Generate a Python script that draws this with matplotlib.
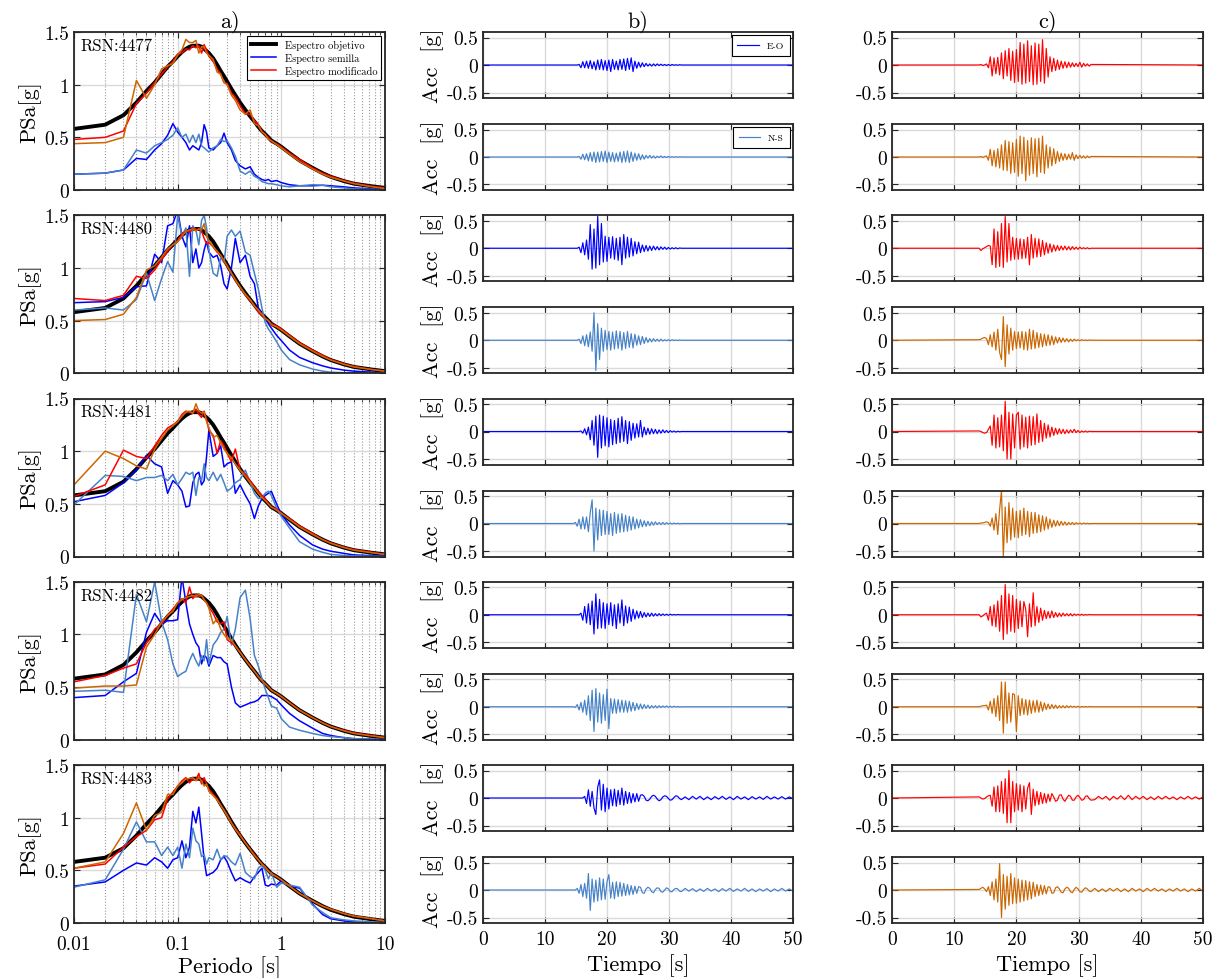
import numpy as np
import matplotlib
matplotlib.use('Agg')
import matplotlib.pyplot as plt
from matplotlib.lines import Line2D
from matplotlib.ticker import LogLocator, NullFormatter

plt.rcParams['font.family'] = 'cmr10'
plt.rcParams['mathtext.fontset'] = 'cm'
plt.rcParams['axes.formatter.use_mathtext'] = True
plt.rcParams['axes.unicode_minus'] = False

# ---------------- spectra (periods in s, PSa in g) ----------------
periods = [0.01, 0.02, 0.03, 0.04, 0.05, 0.06, 0.07, 0.08, 0.09, 0.10,
           0.11, 0.12, 0.13, 0.14, 0.15, 0.16, 0.17, 0.18, 0.19, 0.20,
           0.22, 0.24, 0.26, 0.28, 0.30, 0.33, 0.36, 0.40, 0.45, 0.50,
           0.55, 0.60, 0.65, 0.70, 0.75, 0.80, 0.90, 1.0, 1.2, 1.5,
           2.0, 2.5, 3.0, 4.0, 5.0, 7.5, 10.0]

target = [0.58, 0.62, 0.71, 0.83, 0.94, 1.02, 1.10, 1.17, 1.22, 1.27,
          1.31, 1.34, 1.36, 1.37, 1.37, 1.37, 1.36, 1.34, 1.32, 1.30,
          1.25, 1.19, 1.13, 1.08, 1.03, 0.96, 0.90, 0.83, 0.76, 0.70,
          0.65, 0.60, 0.56, 0.53, 0.50, 0.47, 0.44, 0.41, 0.35, 0.28,
          0.21, 0.16, 0.125, 0.085, 0.06, 0.035, 0.02]

seed_eo_4477 = [0.15, 0.16, 0.19, 0.30, 0.29, 0.38, 0.44, 0.52, 0.63, 0.55,
                0.50, 0.45, 0.38, 0.42, 0.40, 0.38, 0.45, 0.62, 0.55, 0.40,
                0.38, 0.42, 0.45, 0.54, 0.45, 0.38, 0.28, 0.23, 0.20, 0.22,
                0.15, 0.12, 0.10, 0.09, 0.10, 0.08, 0.09, 0.07, 0.05, 0.04,
                0.04, 0.045, 0.04, 0.03, 0.02, 0.01, 0.005]
seed_ns_4477 = [0.15, 0.16, 0.19, 0.38, 0.35, 0.42, 0.45, 0.48, 0.52, 0.59,
                0.50, 0.53, 0.45, 0.52, 0.45, 0.53, 0.42, 0.40, 0.38, 0.36,
                0.40, 0.42, 0.48, 0.46, 0.47, 0.40, 0.32, 0.18, 0.15, 0.18,
                0.13, 0.11, 0.08, 0.07, 0.06, 0.06, 0.05, 0.04, 0.03, 0.04,
                0.05, 0.045, 0.03, 0.02, 0.01, 0.005, 0.003]
mod_eo_4477 = [0.48, 0.50, 0.56, 0.82, 0.92, 1.02, 1.10, 1.17, 1.22, 1.29,
               1.30, 1.34, 1.33, 1.37, 1.35, 1.37, 1.30, 1.38, 1.33, 1.27,
               1.22, 1.15, 1.10, 1.02, 1.01, 0.92, 0.88, 0.80, 0.72, 0.72,
               0.66, 0.62, 0.56, 0.52, 0.50, 0.46, 0.44, 0.41, 0.35, 0.29,
               0.21, 0.16, 0.13, 0.09, 0.065, 0.035, 0.02]
mod_ns_4477 = [0.44, 0.45, 0.50, 1.04, 0.87, 1.00, 1.15, 1.18, 1.20, 1.28,
               1.33, 1.43, 1.40, 1.40, 1.42, 1.30, 1.36, 1.36, 1.30, 1.28,
               1.24, 1.12, 1.10, 1.02, 1.00, 0.90, 0.85, 0.76, 0.72, 0.76,
               0.63, 0.61, 0.55, 0.53, 0.48, 0.47, 0.43, 0.40, 0.34, 0.27,
               0.20, 0.15, 0.12, 0.085, 0.06, 0.03, 0.015]

seed_eo_4480 = [0.67, 0.68, 0.72, 0.82, 0.83, 1.13, 1.05, 1.40, 1.42, 1.55,
                1.30, 1.20, 1.40, 1.05, 1.18, 1.00, 1.05, 1.17, 1.25, 1.15,
                1.10, 1.12, 1.02, 0.85, 0.80, 1.00, 1.28, 1.05, 1.12, 0.92,
                0.85, 0.62, 0.56, 0.52, 0.47, 0.43, 0.36, 0.31, 0.22, 0.15,
                0.10, 0.07, 0.05, 0.03, 0.02, 0.01, 0.005]
seed_ns_4480 = [0.60, 0.62, 0.60, 0.70, 0.95, 0.69, 0.90, 1.06, 0.96, 1.50,
                1.30, 1.38, 0.92, 1.40, 1.36, 1.22, 1.45, 1.50, 1.38, 1.17,
                0.95, 0.92, 1.10, 1.05, 1.30, 1.36, 1.30, 1.35, 1.15, 1.12,
                0.95, 0.80, 0.62, 0.48, 0.42, 0.38, 0.30, 0.22, 0.13, 0.08,
                0.04, 0.02, 0.01, 0.005, 0.002, 0.001, 0.0]
mod_eo_4480 = [0.71, 0.69, 0.74, 0.92, 0.90, 0.98, 1.08, 1.16, 1.22, 1.26,
               1.32, 1.35, 1.34, 1.38, 1.36, 1.37, 1.35, 1.28, 1.23, 1.24,
               1.20, 1.15, 1.12, 1.06, 1.02, 0.95, 0.88, 0.82, 0.74, 0.69,
               0.64, 0.58, 0.55, 0.52, 0.50, 0.47, 0.45, 0.42, 0.36, 0.29,
               0.22, 0.17, 0.13, 0.09, 0.065, 0.035, 0.02]
mod_ns_4480 = [0.50, 0.51, 0.56, 0.72, 0.98, 1.02, 1.10, 1.18, 1.22, 1.25,
               1.30, 1.35, 1.36, 1.37, 1.35, 1.37, 1.36, 1.42, 1.30, 1.26,
               1.20, 1.16, 1.12, 1.07, 1.02, 0.95, 0.89, 0.82, 0.75, 0.70,
               0.64, 0.60, 0.56, 0.52, 0.50, 0.46, 0.44, 0.41, 0.35, 0.28,
               0.21, 0.16, 0.125, 0.085, 0.06, 0.035, 0.02]

seed_eo_4481 = [0.52, 0.58, 0.70, 0.82, 0.96, 0.88, 0.85, 0.60, 0.72, 0.68,
                0.62, 0.47, 0.48, 0.70, 0.78, 0.80, 0.68, 0.72, 0.95, 1.20,
                0.95, 0.98, 1.05, 0.85, 0.88, 0.90, 0.60, 0.68, 0.58, 0.50,
                0.36, 0.48, 0.55, 0.58, 0.60, 0.62, 0.50, 0.40, 0.30, 0.20,
                0.11, 0.07, 0.05, 0.03, 0.015, 0.008, 0.005]
seed_ns_4481 = [0.49, 0.77, 0.76, 0.72, 0.75, 0.75, 0.77, 0.72, 0.78, 0.68,
                0.74, 0.80, 0.78, 0.80, 0.58, 0.75, 0.72, 0.88, 0.75, 0.72,
                0.80, 0.72, 0.78, 0.70, 0.62, 0.65, 0.70, 0.73, 0.82, 0.70,
                0.60, 0.55, 0.56, 0.60, 0.62, 0.58, 0.46, 0.38, 0.27, 0.14,
                0.07, 0.04, 0.02, 0.01, 0.005, 0.002, 0.0]
mod_eo_4481 = [0.57, 0.68, 1.01, 0.95, 0.93, 1.05, 1.15, 1.22, 1.25, 1.28,
               1.35, 1.38, 1.37, 1.36, 1.40, 1.35, 1.32, 1.38, 1.30, 1.20,
               1.15, 0.98, 1.10, 1.05, 0.98, 0.90, 1.02, 0.82, 0.78, 0.72,
               0.66, 0.62, 0.58, 0.55, 0.50, 0.47, 0.45, 0.41, 0.36, 0.29,
               0.22, 0.16, 0.13, 0.09, 0.065, 0.04, 0.02]
mod_ns_4481 = [0.68, 1.00, 0.93, 0.86, 0.83, 1.02, 1.12, 1.20, 1.24, 1.28,
               1.33, 1.37, 1.38, 1.36, 1.45, 1.38, 1.36, 1.37, 1.28, 1.22,
               1.13, 1.15, 1.08, 1.02, 0.98, 0.94, 0.88, 0.82, 0.76, 0.70,
               0.65, 0.60, 0.56, 0.53, 0.50, 0.47, 0.44, 0.41, 0.35, 0.28,
               0.21, 0.16, 0.125, 0.085, 0.06, 0.035, 0.02]

seed_eo_4482 = [0.40, 0.42, 0.55, 0.63, 1.02, 1.20, 1.10, 1.13, 1.13, 1.14,
                1.55, 1.30, 1.10, 1.00, 0.92, 0.88, 0.72, 0.80, 0.78, 0.70,
                0.80, 0.78, 0.78, 0.74, 0.72, 0.50, 0.35, 0.31, 0.33, 0.35,
                0.36, 0.38, 0.42, 0.42, 0.42, 0.41, 0.38, 0.33, 0.25, 0.18,
                0.11, 0.06, 0.04, 0.02, 0.01, 0.005, 0.002]
seed_ns_4482 = [0.46, 0.47, 0.45, 1.38, 1.12, 1.50, 1.12, 0.95, 0.72, 0.60,
                0.63, 0.65, 0.75, 0.82, 0.75, 0.70, 0.80, 0.75, 0.95, 0.72,
                0.90, 0.95, 1.02, 1.05, 1.17, 0.90, 1.05, 1.35, 1.42, 1.15,
                0.80, 0.70, 0.58, 0.48, 0.40, 0.32, 0.30, 0.20, 0.12, 0.09,
                0.06, 0.04, 0.03, 0.02, 0.01, 0.005, 0.002]
mod_eo_4482 = [0.55, 0.61, 0.68, 0.72, 0.92, 1.05, 1.10, 1.18, 1.24, 1.30,
               1.34, 1.30, 1.45, 1.34, 1.38, 1.36, 1.37, 1.33, 1.30, 1.26,
               1.20, 1.12, 1.10, 1.12, 0.95, 0.92, 0.89, 0.83, 0.76, 0.70,
               0.65, 0.60, 0.56, 0.53, 0.50, 0.47, 0.44, 0.41, 0.35, 0.28,
               0.21, 0.16, 0.125, 0.09, 0.065, 0.04, 0.02]
mod_ns_4482 = [0.49, 0.51, 0.51, 0.52, 0.88, 1.00, 1.12, 1.18, 1.22, 1.30,
               1.33, 1.35, 1.36, 1.37, 1.36, 1.38, 1.37, 1.33, 1.30, 1.25,
               1.10, 1.15, 1.05, 1.00, 0.96, 0.95, 0.89, 0.83, 0.76, 0.70,
               0.65, 0.60, 0.56, 0.53, 0.50, 0.47, 0.44, 0.41, 0.35, 0.28,
               0.21, 0.16, 0.125, 0.085, 0.06, 0.035, 0.02]

seed_eo_4483 = [0.35, 0.39, 0.50, 0.57, 0.55, 0.62, 0.58, 0.52, 0.60, 0.62,
                0.78, 0.62, 0.72, 1.06, 0.95, 1.10, 0.85, 0.60, 0.45, 0.46,
                0.48, 0.52, 0.60, 0.63, 0.58, 0.48, 0.40, 0.43, 0.40, 0.38,
                0.44, 0.48, 0.52, 0.36, 0.35, 0.37, 0.36, 0.40, 0.35, 0.33,
                0.18, 0.08, 0.04, 0.02, 0.01, 0.005, 0.002]
seed_ns_4483 = [0.34, 0.41, 0.70, 0.96, 0.77, 0.77, 0.64, 0.72, 0.64, 0.72,
                0.52, 0.75, 0.62, 0.90, 0.78, 0.75, 0.63, 0.65, 0.56, 0.62,
                0.60, 0.70, 0.60, 0.64, 0.63, 0.58, 0.55, 0.66, 0.48, 0.44,
                0.42, 0.52, 0.55, 0.50, 0.42, 0.48, 0.34, 0.38, 0.36, 0.34,
                0.17, 0.10, 0.05, 0.03, 0.02, 0.01, 0.005]
mod_eo_4483 = [0.52, 0.56, 0.72, 0.82, 0.88, 0.98, 1.00, 1.18, 1.24, 1.30,
               1.35, 1.38, 1.33, 1.37, 1.36, 1.42, 1.32, 1.38, 1.32, 1.27,
               1.22, 1.18, 1.12, 1.07, 1.03, 0.95, 0.90, 0.84, 0.76, 0.70,
               0.65, 0.60, 0.56, 0.53, 0.50, 0.47, 0.44, 0.41, 0.35, 0.28,
               0.21, 0.16, 0.13, 0.09, 0.065, 0.04, 0.02]
mod_ns_4483 = [0.52, 0.58, 0.85, 1.14, 0.88, 1.02, 1.05, 1.22, 1.22, 1.30,
               1.33, 1.37, 1.37, 1.38, 1.35, 1.38, 1.35, 1.30, 1.32, 1.25,
               1.21, 1.17, 1.12, 1.07, 1.02, 0.95, 0.89, 0.83, 0.76, 0.70,
               0.64, 0.60, 0.56, 0.53, 0.49, 0.47, 0.44, 0.41, 0.35, 0.28,
               0.21, 0.16, 0.13, 0.09, 0.065, 0.04, 0.02]

# ---------------- accelerograms (g), sampled every 0.3 s from 14 s to 32 s ----------------
acc_eo_seed_4477 = [0, 0, 0, 0, 0, 0.01, -0.05, 0.06, -0.05, 0.07,
                    -0.06, 0.08, -0.07, 0.06, -0.09, 0.09, -0.08, 0.10, -0.09, 0.08,
                    -0.10, 0.09, -0.12, 0.10, -0.08, 0.07, -0.09, 0.10, -0.08, 0.11,
                    -0.10, 0.12, -0.08, 0.13, -0.12, 0.07, -0.06, 0.05, -0.04, 0.04,
                    -0.03, 0.03, -0.02, 0.02, -0.02, 0.02, -0.015, 0.02, -0.01, 0.015,
                    -0.01, 0.01, -0.01, 0.01, -0.01, 0.01, -0.005, 0.005, -0.005, 0.005, 0]
acc_ns_seed_4477 = [0, 0, 0, 0, 0, 0.01, -0.04, 0.05, -0.05, 0.06,
                    -0.07, 0.08, -0.08, 0.09, -0.10, 0.09, -0.09, 0.10, -0.08, 0.11,
                    -0.10, 0.09, -0.08, 0.08, -0.09, 0.07, -0.08, 0.09, -0.10, 0.10,
                    -0.09, 0.11, -0.10, 0.09, -0.08, 0.07, -0.06, 0.06, -0.05, 0.04,
                    -0.04, 0.03, -0.02, 0.03, -0.02, 0.02, -0.02, 0.015, -0.01, 0.02,
                    -0.01, 0.01, -0.01, 0.01, -0.005, 0.005, -0.005, 0.005, -0.005, 0.005, 0]
acc_eo_mod_4477 = [0, 0.01, -0.01, 0, 0.02, -0.05, 0.15, -0.20, 0.13, -0.16,
                   0.14, -0.18, 0.22, -0.25, 0.26, -0.20, 0.30, -0.28, 0.25, -0.32,
                   0.28, -0.30, 0.41, -0.35, 0.38, -0.33, 0.44, -0.30, 0.35, -0.36,
                   0.40, -0.35, 0.38, -0.30, 0.46, -0.33, 0.30, -0.22, 0.15, -0.12,
                   0.12, -0.10, 0.09, -0.08, 0.07, -0.06, 0.06, -0.05, 0.05, -0.04,
                   0.04, -0.03, 0.03, -0.03, 0.05, -0.04, 0.03, -0.02, 0.02, -0.02, 0.01]
acc_ns_mod_4477 = [0, 0.01, -0.01, 0.01, 0.02, -0.06, 0.14, -0.16, 0.12, -0.18,
                   0.15, -0.20, 0.22, -0.24, 0.30, -0.25, 0.28, -0.30, 0.26, -0.28,
                   0.32, -0.35, 0.38, -0.30, 0.36, -0.43, 0.30, -0.33, 0.35, -0.30,
                   0.33, -0.36, 0.34, -0.28, 0.38, -0.30, 0.22, -0.20, 0.18, -0.16,
                   0.15, -0.12, 0.10, -0.08, 0.07, -0.06, 0.06, -0.05, 0.05, -0.04,
                   0.08, -0.06, 0.04, -0.03, 0.03, -0.02, 0.02, -0.02, 0.02, -0.01, 0.01]

acc_eo_seed_4480 = [0, 0, 0, 0, 0, 0.02, -0.08, 0.10, -0.12, 0.15,
                    -0.20, 0.43, -0.38, 0.35, -0.36, 0.58, -0.30, 0.45, -0.25, 0.22,
                    -0.24, 0.20, -0.18, 0.21, -0.20, 0.18, -0.22, 0.20, -0.30, 0.25,
                    -0.18, 0.20, -0.16, 0.18, -0.14, 0.12, -0.10, 0.11, -0.08, 0.06,
                    -0.06, 0.05, -0.05, 0.04, -0.04, 0.04, -0.03, 0.03, -0.03, 0.025,
                    -0.02, 0.02, -0.02, 0.015, -0.015, 0.01, -0.01, 0.01, -0.01, 0.005, 0]
acc_ns_seed_4480 = [0, 0, 0, 0, 0, 0.02, -0.06, 0.08, -0.10, 0.10,
                    -0.12, 0.15, -0.20, 0.50, -0.55, 0.30, -0.35, 0.22, -0.20, 0.18,
                    -0.17, 0.16, -0.18, 0.15, -0.16, 0.17, -0.15, 0.16, -0.18, 0.14,
                    -0.15, 0.16, -0.13, 0.12, -0.14, 0.11, -0.09, 0.08, -0.08, 0.07,
                    -0.06, 0.05, -0.04, 0.03, -0.03, 0.03, -0.02, 0.02, -0.02, 0.02,
                    -0.015, 0.01, -0.01, 0.01, -0.01, 0.01, -0.005, 0.005, -0.005, 0.005, 0]
acc_eo_mod_4480 = [0, -0.04, -0.01, 0.01, 0.03, 0.05, 0.04, -0.30, 0.35, -0.35,
                   0.30, -0.33, 0.45, -0.35, 0.58, -0.25, 0.45, -0.22, 0.20, -0.20,
                   0.18, -0.20, 0.17, -0.19, 0.16, -0.18, 0.20, -0.30, 0.25, -0.18,
                   0.18, -0.16, 0.17, -0.15, 0.14, -0.12, 0.10, -0.09, 0.08, -0.07,
                   0.06, -0.05, 0.05, -0.04, 0.04, -0.03, 0.04, -0.03, 0.03, -0.03,
                   0.03, -0.02, 0.02, -0.02, 0.02, -0.01, 0.01, -0.01, 0.01, -0.01, 0]
acc_ns_mod_4480 = [0.01, 0.02, 0.04, 0.05, 0.03, -0.08, 0.10, -0.12, 0.15, -0.18,
                   0.20, -0.22, -0.35, 0.43, -0.48, 0.28, -0.25, 0.22, -0.18, 0.16,
                   -0.15, 0.15, -0.14, 0.16, -0.17, 0.15, -0.18, 0.20, -0.16, 0.18,
                   -0.15, 0.14, -0.13, 0.12, -0.12, 0.11, -0.10, 0.10, -0.09, 0.08,
                   -0.08, 0.06, -0.05, 0.05, -0.04, 0.04, -0.03, 0.03, -0.03, 0.02,
                   -0.02, 0.02, -0.01, 0.01, -0.01, 0.01, -0.005, 0.005, -0.005, 0.005, 0]

acc_eo_seed_4481 = [0, 0, 0, 0, 0, 0, 0.01, -0.03, 0.05, -0.06,
                    0.08, -0.15, 0.20, -0.25, 0.28, -0.47, 0.30, -0.30, 0.28, -0.26,
                    0.25, -0.28, 0.22, -0.24, 0.20, -0.22, 0.24, -0.20, 0.27, -0.18,
                    0.20, -0.22, 0.18, -0.16, 0.15, -0.12, 0.14, -0.10, 0.20, -0.10,
                    0.08, -0.06, 0.06, -0.05, 0.05, -0.04, 0.04, -0.04, 0.03, -0.03,
                    0.03, -0.02, 0.02, -0.02, 0.015, -0.01, 0.01, -0.01, 0.005, -0.005, 0]
acc_ns_seed_4481 = [0, 0, 0, 0.02, -0.05, 0.08, -0.10, 0.12, -0.10, 0.12,
                    -0.15, 0.20, 0.43, -0.50, 0.28, -0.30, 0.25, -0.22, 0.24, -0.20,
                    0.22, -0.20, 0.18, -0.22, 0.20, -0.18, 0.17, -0.16, 0.18, -0.15,
                    0.15, -0.14, 0.13, -0.12, 0.12, -0.10, 0.08, -0.08, 0.07, -0.06,
                    0.05, -0.05, 0.04, -0.04, 0.03, -0.03, 0.03, -0.02, 0.02, -0.02,
                    0.02, -0.015, 0.015, -0.01, 0.01, -0.01, 0.01, -0.005, 0.005, -0.005, 0]
acc_eo_mod_4481 = [0.01, 0.0, -0.02, -0.03, -0.02, 0.04, 0.10, -0.25, 0.30, -0.30,
                   0.25, -0.28, 0.30, -0.35, 0.55, -0.50, 0.35, -0.50, 0.32, -0.30,
                   0.30, 0.35, -0.32, 0.30, -0.28, 0.26, -0.30, 0.28, -0.25, 0.27,
                   -0.24, 0.32, -0.20, 0.20, -0.18, 0.15, -0.12, 0.12, -0.10, 0.08,
                   -0.07, 0.06, -0.05, 0.05, -0.04, 0.04, -0.04, 0.03, -0.03, 0.03,
                   -0.02, 0.04, -0.02, 0.02, -0.02, 0.01, -0.01, 0.01, -0.01, 0.005, 0]
acc_ns_mod_4481 = [0, 0.01, 0.01, 0.02, 0.03, 0.02, -0.05, 0.10, -0.12, 0.18,
                   -0.20, 0.25, 0.60, -0.60, 0.30, -0.35, 0.38, -0.30, 0.28, -0.25,
                   0.22, -0.26, 0.24, -0.22, 0.28, -0.20, 0.22, -0.24, 0.20, -0.18,
                   0.20, -0.17, 0.16, -0.15, 0.14, -0.12, 0.12, -0.10, 0.08, -0.07,
                   0.06, -0.05, 0.05, -0.04, 0.04, -0.03, 0.03, -0.03, 0.02, -0.02,
                   0.02, -0.02, 0.015, -0.01, 0.01, -0.01, 0.01, -0.005, 0.005, -0.005, 0]

acc_eo_seed_4482 = [0, 0, 0, 0, 0, 0, 0.03, -0.10, 0.15, -0.15,
                    0.20, -0.18, 0.25, -0.35, 0.38, -0.25, 0.28, -0.24, 0.22, -0.25,
                    0.20, -0.18, 0.22, -0.20, 0.18, -0.25, 0.20, -0.15, 0.27, -0.20,
                    0.16, -0.15, 0.14, -0.12, 0.10, -0.08, 0.07, -0.06, 0.06, -0.05,
                    0.04, -0.04, 0.03, -0.03, 0.03, -0.025, 0.02, -0.02, 0.02, -0.015,
                    0.015, -0.01, 0.01, -0.01, 0.01, -0.005, 0.005, -0.005, 0.005, 0, 0]
acc_ns_seed_4482 = [0, 0, 0, -0.01, 0.04, -0.06, 0.08, -0.10, 0.12, -0.15,
                    0.20, -0.25, 0.30, -0.45, 0.33, -0.28, 0.25, -0.30, 0.22, -0.25,
                    0.32, -0.40, 0.15, -0.12, 0.14, -0.12, 0.13, -0.10, 0.12, -0.10,
                    0.11, -0.10, 0.10, -0.08, 0.08, -0.07, 0.06, -0.05, 0.05, -0.04,
                    0.04, -0.03, 0.03, -0.03, 0.02, -0.02, 0.02, -0.02, 0.02, -0.015,
                    0.015, -0.01, 0.015, -0.01, 0.01, -0.01, 0.01, -0.005, 0.005, -0.005, 0]
acc_eo_mod_4482 = [0, -0.04, -0.02, 0.01, 0.03, -0.10, 0.15, -0.20, 0.18, -0.22,
                   0.25, -0.30, 0.35, -0.45, 0.55, -0.35, 0.38, -0.30, 0.35, -0.32,
                   0.28, -0.25, 0.25, -0.22, 0.24, 0.10, -0.40, 0.20, -0.22, 0.40,
                   -0.20, 0.15, -0.14, 0.12, -0.10, 0.08, -0.07, 0.06, -0.06, 0.07,
                   -0.05, 0.04, -0.04, 0.03, -0.03, 0.03, -0.02, 0.02, -0.02, 0.02,
                   -0.02, 0.015, -0.01, 0.01, -0.01, 0.01, -0.01, 0.005, -0.005, 0.005, 0]
acc_ns_mod_4482 = [0, 0.01, 0.02, 0.02, 0.03, -0.06, 0.10, -0.12, 0.15, -0.18,
                   0.20, -0.25, 0.45, -0.48, 0.45, -0.30, 0.25, -0.28, 0.24, 0.22,
                   -0.45, 0.20, -0.16, 0.15, -0.14, 0.13, -0.15, 0.12, -0.12, 0.11,
                   -0.10, 0.12, -0.10, 0.09, -0.08, 0.07, -0.05, 0.05, -0.04, 0.04,
                   -0.03, 0.03, -0.03, 0.02, -0.02, 0.02, -0.02, 0.02, -0.015, 0.015,
                   -0.01, 0.01, -0.01, 0.01, -0.01, 0.005, -0.005, 0.005, -0.005, 0.005, 0]

acc_eo_seed_4483 = [0, 0, 0, 0, 0, 0, 0, 0, 0.03, -0.10,
                    0.15, -0.15, 0.12, -0.18, -0.30, 0.20, 0.33, -0.22, 0.25, -0.25,
                    0.18, -0.20, 0.15, -0.14, 0.16, -0.15, 0.14, -0.12, 0.18, -0.13,
                    0.12, -0.10, 0.10, -0.09, 0.08, -0.07, 0.08, -0.06, 0.05, 0.06,
                    0.03, -0.04, -0.05, -0.02, 0.03, 0.05, 0.03, -0.02, -0.05, -0.03,
                    0.02, 0.04, 0.03, -0.01, -0.04, -0.03, 0.01, 0.04, 0.03, -0.01, -0.03]
acc_ns_seed_4483 = [0, 0, 0, 0, 0.03, -0.06, 0.10, -0.12, 0.12, -0.15,
                    0.30, -0.37, 0.20, -0.22, 0.18, -0.20, 0.22, -0.18, 0.20, -0.17,
                    0.15, 0.28, -0.15, 0.14, -0.16, 0.15, -0.12, 0.14, -0.11, 0.12,
                    -0.10, 0.10, -0.09, 0.08, -0.08, 0.07, -0.06, 0.06, 0.05, -0.05,
                    -0.06, 0.02, 0.05, 0.03, -0.03, -0.05, 0.01, 0.04, 0.03, -0.03,
                    -0.04, 0.0, 0.04, 0.02, -0.03, -0.03, 0.01, 0.03, 0.02, -0.02, -0.03]
acc_eo_mod_4483 = [0.02, 0.0, -0.02, -0.01, 0.02, 0.04, 0.05, -0.15, 0.20, -0.25,
                   0.22, -0.25, 0.30, -0.28, 0.35, -0.45, 0.50, -0.45, 0.30, -0.25,
                   0.26, -0.22, 0.24, -0.25, 0.22, -0.20, 0.18, 0.28, -0.30, 0.16,
                   -0.14, 0.12, -0.12, 0.10, -0.10, 0.08, -0.09, 0.07, -0.06, 0.08,
                   0.02, -0.06, -0.04, 0.05, 0.06, -0.02, -0.06, 0.0, 0.05, 0.03,
                   -0.04, -0.04, 0.02, 0.05, 0.01, -0.04, -0.03, 0.03, 0.04, -0.01, -0.04]
acc_ns_mod_4483 = [0.01, 0.03, 0.05, 0.02, -0.03, 0.06, -0.10, 0.15, -0.18, 0.20,
                   -0.22, 0.48, -0.50, 0.28, -0.35, 0.25, -0.28, 0.30, -0.25, 0.22,
                   -0.24, 0.20, -0.22, 0.18, -0.20, 0.17, -0.18, 0.15, -0.16, 0.14,
                   -0.12, 0.10, -0.10, 0.09, -0.08, 0.08, -0.07, 0.06, 0.05, -0.06,
                   -0.05, 0.04, 0.06, 0.02, -0.04, -0.05, 0.02, 0.05, 0.03, -0.03,
                   -0.05, 0.01, 0.05, 0.02, -0.03, -0.04, 0.01, 0.04, 0.02, -0.02, -0.03]

# late coda of RSN 4483 records, sampled every 0.6 s from 32.6 s to 50 s
tail_eo_seed_4483 = [0.02, -0.03, 0.03, -0.02, 0.03, -0.03, 0.02, -0.03, 0.025, -0.02,
                     0.03, -0.025, 0.02, -0.03, 0.03, -0.02, 0.02, -0.03, 0.025, -0.02,
                     0.02, -0.025, 0.03, -0.02, 0.02, -0.02, 0.025, -0.02, 0.02, -0.015]
tail_ns_seed_4483 = [0.03, -0.02, 0.025, -0.03, 0.02, -0.025, 0.03, -0.02, 0.02, -0.03,
                     0.025, -0.02, 0.03, -0.025, 0.02, -0.02, 0.03, -0.025, 0.02, -0.03,
                     0.02, -0.02, 0.025, -0.03, 0.02, -0.02, 0.03, -0.02, 0.02, -0.02]
tail_eo_mod_4483 = [-0.03, 0.03, -0.02, 0.03, -0.04, 0.03, -0.02, 0.04, -0.03, 0.05,
                    -0.03, 0.03, -0.02, 0.03, -0.03, 0.02, -0.03, 0.03, -0.02, 0.03,
                    -0.02, 0.02, -0.03, 0.02, -0.02, 0.03, -0.02, 0.02, -0.02, 0.02]
tail_ns_mod_4483 = [0.03, -0.03, 0.02, -0.03, 0.03, -0.02, 0.03, -0.03, 0.02, -0.03,
                    0.03, -0.02, 0.02, -0.03, 0.03, -0.02, 0.03, -0.02, 0.02, -0.03,
                    0.02, -0.02, 0.03, -0.02, 0.02, -0.03, 0.02, -0.02, 0.03, -0.02]

records = ['4477', '4480', '4481', '4482', '4483']
seed_eo = [seed_eo_4477, seed_eo_4480, seed_eo_4481, seed_eo_4482, seed_eo_4483]
seed_ns = [seed_ns_4477, seed_ns_4480, seed_ns_4481, seed_ns_4482, seed_ns_4483]
mod_eo = [mod_eo_4477, mod_eo_4480, mod_eo_4481, mod_eo_4482, mod_eo_4483]
mod_ns = [mod_ns_4477, mod_ns_4480, mod_ns_4481, mod_ns_4482, mod_ns_4483]
acc_eo_seed = [acc_eo_seed_4477, acc_eo_seed_4480, acc_eo_seed_4481, acc_eo_seed_4482, acc_eo_seed_4483]
acc_ns_seed = [acc_ns_seed_4477, acc_ns_seed_4480, acc_ns_seed_4481, acc_ns_seed_4482, acc_ns_seed_4483]
acc_eo_mod = [acc_eo_mod_4477, acc_eo_mod_4480, acc_eo_mod_4481, acc_eo_mod_4482, acc_eo_mod_4483]
acc_ns_mod = [acc_ns_mod_4477, acc_ns_mod_4480, acc_ns_mod_4481, acc_ns_mod_4482, acc_ns_mod_4483]
tails = {('4483', 'eo_seed'): tail_eo_seed_4483, ('4483', 'ns_seed'): tail_ns_seed_4483,
         ('4483', 'eo_mod'): tail_eo_mod_4483, ('4483', 'ns_mod'): tail_ns_mod_4483}

t_main = 14.0 + 0.3 * np.arange(61)
t_tail = 32.6 + 0.6 * np.arange(30)

c_target = 'black'
c_eo_seed = '#0000ff'
c_ns_seed = '#4682c8'
c_eo_mod = '#ff0000'
c_ns_mod = '#cc6600'

FS_TICK = 14
FS_LAB = 16

W, H = 1222, 979
fig = plt.figure(figsize=(W / 100, H / 100), dpi=100)


def px_axes(x0, y0, x1, y1):
    return fig.add_axes([x0 / W, 1 - y1 / H, (x1 - x0) / W, (y1 - y0) / H])


def style(ax):
    for s in ax.spines.values():
        s.set_linewidth(1.3)
        s.set_color('#262626')
    ax.tick_params(which='both', direction='in', top=True, right=True, labelsize=FS_TICK,
                   color='#262626')
    ax.tick_params(which='major', length=4, width=0.8)
    ax.tick_params(which='minor', length=2, width=0.6)
    ax.tick_params(axis='x', pad=5)
    ax.grid(True, which='major', color='#dadada', lw=1.0)
    ax.set_axisbelow(True)


def acc_xy(main, tail):
    if tail is None:
        return [0, *t_main, 50], [0, *main, 0]
    return [0, *t_main, *t_tail], [0, *main, *tail]


for i, rsn in enumerate(records):
    top = 33 + i * 183.25
    last = i == len(records) - 1

    # spectra
    ax = px_axes(74, top, 385, top + 158)
    style(ax)
    ax.set_xscale('log')
    ax.plot(periods, target, color=c_target, lw=2.8)
    ax.plot(periods, seed_eo[i], color=c_eo_seed, lw=1.1)
    ax.plot(periods, seed_ns[i], color=c_ns_seed, lw=1.1)
    ax.plot(periods, mod_eo[i], color=c_eo_mod, lw=1.1)
    ax.plot(periods, mod_ns[i], color=c_ns_mod, lw=1.1)
    ax.set_xlim(0.01, 10)
    ax.set_ylim(0, 1.5)
    ax.xaxis.set_minor_locator(LogLocator(base=10, subs=np.arange(2, 10)))
    ax.xaxis.set_minor_formatter(NullFormatter())
    ax.grid(True, which='minor', axis='x', color='#9a9a9a', ls=':', lw=0.8)
    ax.set_yticks([0, 0.5, 1, 1.5], labels=['0', '0.5', '1', '1.5'])
    ax.set_xticks([0.01, 0.1, 1, 10], labels=['0.01', '0.1', '1', '10'] if last else [])
    ax.tick_params(axis='x', pad=9)
    ax.set_ylabel('PSa[g]', fontsize=FS_LAB, labelpad=2)
    ax.text(0.02, 0.965, 'RSN:' + rsn, transform=ax.transAxes, ha='left', va='top', fontsize=12)
    if i == 0:
        ax.set_title('a)', fontsize=FS_LAB, pad=3)
        handles = [Line2D([], [], color=c_target, lw=2.8),
                   Line2D([], [], color=c_eo_seed, lw=1.1),
                   Line2D([], [], color=c_eo_mod, lw=1.1)]
        leg = ax.legend(handles, ['Espectro objetivo', 'Espectro semilla', 'Espectro modificado'],
                        loc='upper right', fontsize=7.5, fancybox=False, framealpha=1,
                        edgecolor='black', handlelength=2.4, borderaxespad=0.35, labelspacing=0.3)
        leg.get_frame().set_linewidth(0.8)
    if last:
        ax.set_xlabel('Periodo [s]', fontsize=FS_LAB, labelpad=1)

    # accelerograms
    panels = [(483, 793, acc_eo_seed[i], c_eo_seed, 'eo_seed', 'E-O'),
              (483, 793, acc_ns_seed[i], c_ns_seed, 'ns_seed', 'N-S'),
              (892, 1203, acc_eo_mod[i], c_eo_mod, 'eo_mod', None),
              (892, 1203, acc_ns_mod[i], c_ns_mod, 'ns_mod', None)]
    for j, (x0, x1, acc, col, key, lab) in enumerate(panels):
        y0 = top if j % 2 == 0 else top + 92
        ax = px_axes(x0, y0, x1, y0 + 66)
        style(ax)
        tx, ty = acc_xy(acc, tails.get((rsn, key)))
        ax.plot(tx, ty, color=col, lw=0.85, label=lab)
        ax.set_xlim(0, 50)
        ax.set_ylim(-0.6, 0.6)
        ax.set_yticks([-0.5, 0, 0.5], labels=['-0.5', '0', '0.5'])
        bottom_row = last and j % 2 == 1
        ax.set_xticks([0, 10, 20, 30, 40, 50],
                      labels=['0', '10', '20', '30', '40', '50'] if bottom_row else [])
        if bottom_row:
            ax.set_xlabel('Tiempo [s]', fontsize=FS_LAB)
        if x0 == 483:
            ax.set_ylabel('Acc  [g]', fontsize=FS_LAB, labelpad=2)
        if i == 0 and x0 == 483:
            leg = ax.legend(loc='upper right', fontsize=7, fancybox=False, framealpha=1,
                            edgecolor='black', handlelength=2.2, borderaxespad=0.35,
                            borderpad=0.6)
            leg.get_frame().set_linewidth(0.8)
        if i == 0 and j == 0:
            ax.set_title('b)', fontsize=FS_LAB, pad=3)
        if i == 0 and j == 2:
            ax.set_title('c)', fontsize=FS_LAB, pad=3)

fig.savefig('out.png', dpi=100)
